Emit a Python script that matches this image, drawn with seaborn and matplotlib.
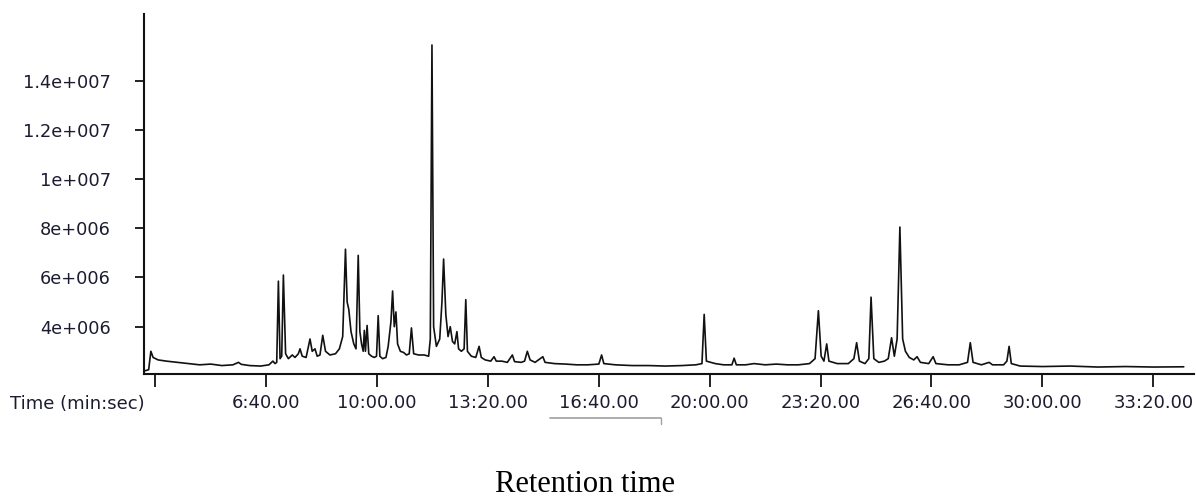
import numpy as np
import matplotlib.pyplot as plt
import pandas as pd
import seaborn as sns
from matplotlib.lines import Line2D

# retention time (s) and intensity (x1e6)
time_s = [180, 188, 192, 196, 205, 220, 240, 260, 280, 300, 320, 340, 350, 355, 370, 390, 405, 412, 416,
          419, 422, 425, 428, 431, 435, 440, 447, 452, 458, 461, 465, 472, 479, 483, 488, 492, 497, 502, 507,
          515, 525, 532, 538, 543, 546, 549, 553, 558, 562, 566, 569, 572, 575, 577, 579, 582, 585, 590, 595,
          599, 602, 605, 610, 616, 620, 625, 628, 631, 634, 637, 642, 648, 653, 658, 662, 666, 675, 685, 693,
          696, 699, 702, 707, 713, 717, 720, 724, 728, 732, 736, 740, 744, 747, 752, 757, 760, 763, 770, 778,
          784, 788, 795, 805, 811, 815, 825, 835, 844, 848, 860, 866, 871, 876, 885, 899, 903, 920, 940, 960,
          980, 1000, 1005, 1009, 1030, 1060, 1090, 1120, 1150, 1175, 1186, 1190, 1194, 1210, 1225, 1240, 1244,
          1248, 1265, 1280, 1300, 1320, 1340, 1360, 1380, 1390, 1396, 1401, 1406, 1411, 1415, 1430, 1450, 1460,
          1465, 1470, 1480, 1487, 1491, 1496, 1505, 1515, 1522, 1528, 1533, 1538, 1543, 1548, 1553, 1560, 1568,
          1574, 1580, 1595, 1603, 1608, 1630, 1650, 1665, 1670, 1675, 1690, 1704, 1710, 1730, 1736, 1740, 1744,
          1760, 1800, 1850, 1900, 1950, 2000, 2055]
intensity = [2.2, 2.25, 3.0, 2.75, 2.65, 2.6, 2.55, 2.5, 2.45, 2.48, 2.42, 2.45, 2.55, 2.47, 2.42, 2.4, 2.45, 2.6, 2.5,
             2.55, 5.85, 2.7, 2.8, 6.1, 2.9, 2.7, 2.85, 2.75, 2.9, 3.1, 2.8, 2.75, 3.5, 3.0, 3.1, 2.8, 2.85, 3.65, 3.0,
             2.85, 2.9, 3.1, 3.6, 7.15, 5.0, 4.7, 3.8, 3.3, 3.1, 6.9, 3.8, 3.3, 3.0, 3.85, 3.0, 4.05, 2.9, 2.8, 2.75,
             2.8, 4.45, 2.8, 2.7, 2.75, 3.2, 4.2, 5.45, 4.0, 4.6, 3.3, 3.0, 2.95, 2.85, 2.9, 3.95, 2.9, 2.85, 2.85, 2.8,
             3.5, 15.45, 4.0, 3.2, 3.5, 5.0, 6.75, 4.5, 3.6, 4.0, 3.4, 3.3, 3.8, 3.1, 3.0, 3.1, 5.1, 3.0, 2.8, 2.75,
             3.2, 2.75, 2.65, 2.6, 2.78, 2.6, 2.6, 2.55, 2.85, 2.58, 2.55, 2.6, 3.0, 2.65, 2.55, 2.78, 2.55, 2.5, 2.48, 2.45,
             2.45, 2.48, 2.85, 2.5, 2.45, 2.42, 2.42, 2.4, 2.42, 2.45, 2.5, 4.5, 2.6, 2.5, 2.45, 2.45, 2.72,
             2.45, 2.45, 2.5, 2.45, 2.48, 2.45, 2.45, 2.5, 2.7, 4.65, 2.8, 2.6, 3.3, 2.6, 2.5, 2.5, 2.7,
             3.35, 2.6, 2.5, 2.7, 5.2, 2.7, 2.55, 2.6, 2.7, 3.55, 2.8, 3.5, 8.05, 3.5, 3.0, 2.75, 2.65,
             2.78, 2.55, 2.5, 2.78, 2.5, 2.45, 2.45, 2.55, 3.35, 2.55, 2.45, 2.55, 2.45, 2.45, 2.6, 3.2, 2.5,
             2.4, 2.38, 2.4, 2.36, 2.38, 2.36, 2.37]

x_ticks = [200, 400, 600, 800, 1000, 1200, 1400, 1600, 1800, 2000]
x_labels = ['', '6:40.00', '10:00.00', '13:20.00', '16:40.00', '20:00.00',
            '23:20.00', '26:40.00', '30:00.00', '33:20.00']
y_ticks = [4e6, 6e6, 8e6, 1e7, 1.2e7, 1.4e7]
y_labels = ['4e+006', '6e+006', '8e+006', '1e+007', '1.2e+007', '1.4e+007']

df = pd.DataFrame({'time': time_s, 'intensity': np.array(intensity) * 1e6})

sns.set_theme(style='white')
plt.rcParams['font.family'] = ['DejaVu Sans']

W, H = 1196, 498
fig = plt.figure(figsize=(W / 100, H / 100), dpi=100)
ax = fig.add_axes([144 / W, 1 - 374 / H, (1194 - 144) / W, (374 - 14) / H])

sns.lineplot(data=df, x='time', y='intensity', ax=ax, color='#111111', linewidth=1.2)

ax.set_xlim(179.6, 2073.5)
ax.set_ylim(2.077e6, 1.671e7)
ax.set_xticks(x_ticks)
ax.set_xticklabels(x_labels)
ax.set_yticks(y_ticks)
ax.set_yticklabels(y_labels)
ax.set_xlabel('')
ax.set_ylabel('')

txt_color = '#1c1c30'
ax.tick_params(axis='x', direction='out', length=9.5, width=1.3, color='#111111',
               pad=5, labelsize=13, labelcolor=txt_color, bottom=True)
ax.tick_params(axis='y', direction='out', length=6.5, width=1.3, color='#111111',
               pad=17.5, labelsize=12.8, labelcolor=txt_color, left=True)
sns.despine(ax=ax)
for side in ['left', 'bottom']:
    ax.spines[side].set_color('#111111')
    ax.spines[side].set_linewidth(1.5)

fig.text(145 / W, 1 - 404 / H, 'Time (min:sec)', ha='right', va='center',
         fontsize=13, color=txt_color)

# grey underline artifact below the 16:40 label
fig.add_artist(Line2D([550 / W, 661 / W], [1 - 417.7 / H, 1 - 417.7 / H], color='#a0a0a0', lw=1.2))
fig.add_artist(Line2D([661 / W, 661 / W], [1 - 418 / H, 1 - 424 / H], color='#a0a0a0', lw=1.0))

fig.text(585 / W, 1 - 492 / H, 'Retention time', ha='center', va='baseline',
         fontsize=22, family=['Liberation Serif'], color='black')

fig.savefig('out.png', dpi=100)
